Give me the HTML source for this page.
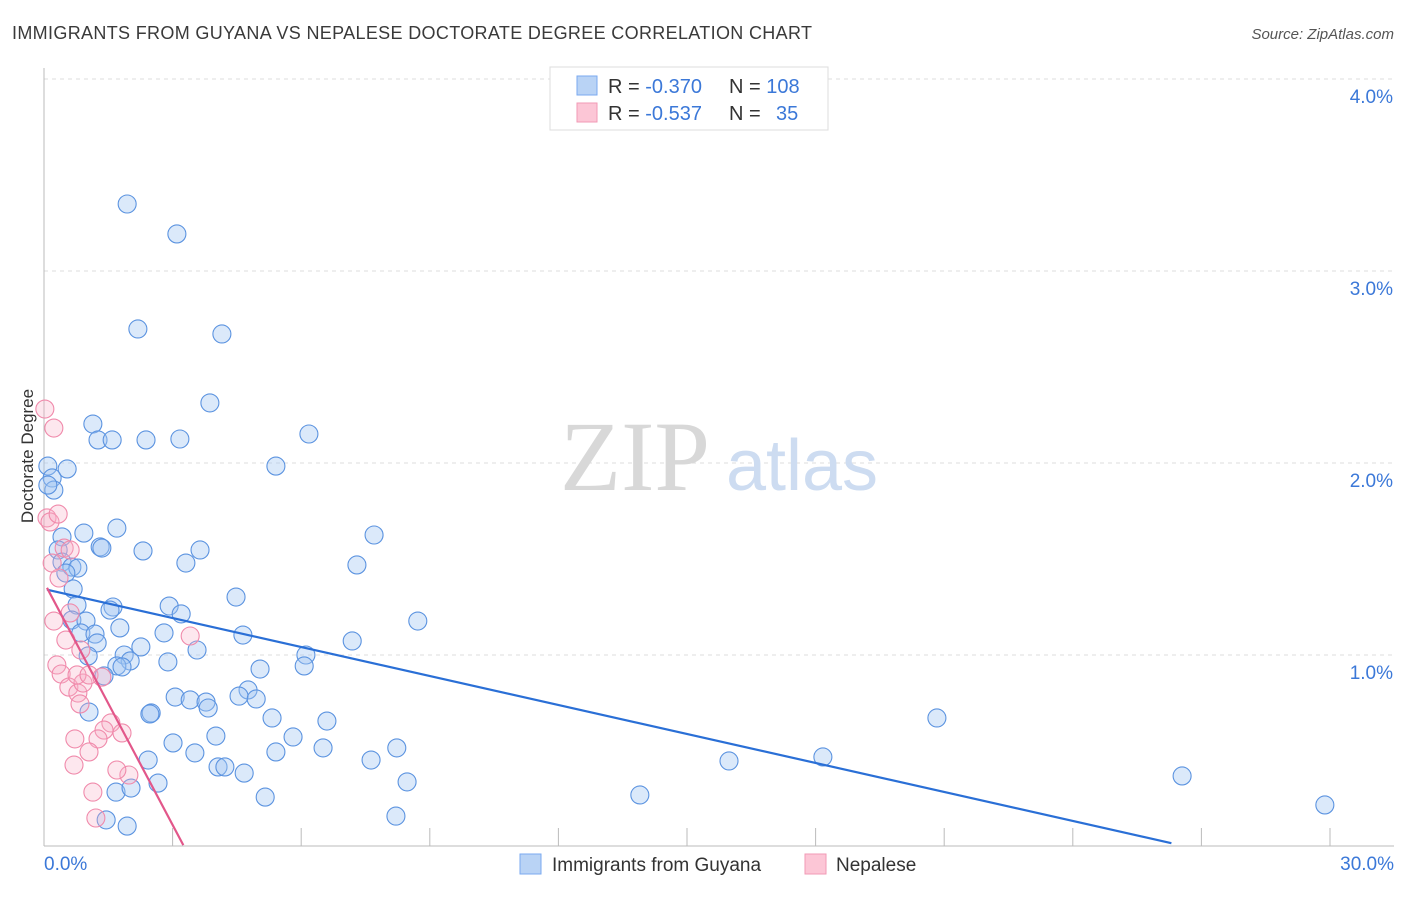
<!DOCTYPE html>
<html><head><meta charset="utf-8"><style>
body{margin:0;background:#fff;font-family:"Liberation Sans",sans-serif;}
svg text{font-family:"Liberation Sans",sans-serif;}
</style></head><body>
<svg id="chart" width="1406" height="892">
<text x="12" y="39" font-size="18" fill="#3a3a3a" textLength="800" lengthAdjust="spacing">IMMIGRANTS FROM GUYANA VS NEPALESE DOCTORATE DEGREE CORRELATION CHART</text>
<text x="1394" y="39" font-size="15" fill="#555" text-anchor="end" font-style="italic">Source: ZipAtlas.com</text>
<g id="grid"></g>
<text x="635" y="490" font-size="100" fill="#d8d8d8" text-anchor="middle" style="font-family:'Liberation Serif',serif">ZIP</text>
<text x="802" y="490" font-size="72" fill="#cddcf1" text-anchor="middle">atlas</text>
<g id="marks"></g>
<text x="33" y="456" font-size="17" fill="#333" text-anchor="middle" transform="rotate(-90 33 456)">Doctorate Degree</text>
<g>
<rect x="550" y="67" width="278" height="63" fill="#fff" stroke="#ddd"/>
<rect x="577" y="76" width="20" height="19" fill="#b9d3f5" stroke="#7aaaf0"/>
<rect x="577" y="103" width="20" height="19" fill="#fcc6d6" stroke="#f29ab5"/>
<text x="608" y="93" font-size="20" fill="#333">R = <tspan fill="#3b78d8">-0.370</tspan><tspan x="729">N = </tspan><tspan fill="#3b78d8">108</tspan></text>
<text x="608" y="120" font-size="20" fill="#333">R = <tspan fill="#3b78d8">-0.537</tspan><tspan x="729">N = </tspan><tspan x="776" fill="#3b78d8">35</tspan></text>
</g>
<g>
<rect x="520" y="854" width="21" height="20" fill="#b9d3f5" stroke="#7aaaf0"/>
<text x="552" y="871" font-size="19" fill="#333">Immigrants from Guyana</text>
<rect x="805" y="854" width="21" height="20" fill="#fcc6d6" stroke="#f29ab5"/>
<text x="836" y="871" font-size="19" fill="#333">Nepalese</text>
</g>
</svg>
<script>
const yTicks=[1,2,3,4];
const yTickLabels=["1.0%","2.0%","3.0%","4.0%"];
const xTickLabels=["0.0%","30.0%"];
const bluePx=[[127,204],[177,234],[138,329],[222,334],[210,403],[93,424],[98,440],[112,440],[146,440],[180,439],[309,434],[276,466],[67,469],[48,466],[52,478],[54,490],[48,485],[117,528],[84,533],[62,537],[58,550],[100,547],[102,548],[143,551],[200,550],[374,535],[357,565],[186,563],[62,562],[72,567],[78,568],[66,573],[73,589],[77,605],[169,606],[113,607],[110,610],[181,614],[236,597],[418,621],[72,620],[86,621],[81,633],[95,634],[120,628],[164,633],[243,635],[352,641],[97,643],[141,647],[197,650],[306,655],[88,656],[124,655],[168,662],[130,661],[117,666],[122,667],[260,669],[304,666],[104,676],[248,690],[239,696],[175,697],[256,699],[190,700],[206,702],[208,708],[151,713],[150,714],[89,712],[272,718],[327,721],[937,718],[216,736],[293,737],[173,743],[195,753],[276,752],[323,748],[397,748],[148,760],[729,761],[823,757],[371,760],[218,767],[225,767],[244,773],[158,783],[407,782],[1182,776],[116,792],[131,788],[265,797],[640,795],[1325,805],[106,820],[127,826],[396,816]];
const pinkPx=[[45,409],[54,428],[47,518],[50,522],[58,514],[64,548],[70,550],[52,563],[59,578],[70,613],[54,621],[66,640],[81,650],[190,636],[57,665],[61,674],[69,687],[78,693],[83,683],[77,675],[89,675],[102,677],[80,704],[111,723],[104,730],[122,733],[75,739],[98,739],[89,752],[74,765],[129,775],[93,792],[96,818],[117,770]];
const X0=44,XS=(1330-44)/30,Y0=847,YS=192;
const blueX=bluePx.map(p=>+((p[0]-X0)/XS).toFixed(2));
const blueY=bluePx.map(p=>+((Y0-p[1])/YS).toFixed(3));
const pinkX=pinkPx.map(p=>+((p[0]-X0)/XS).toFixed(2));
const pinkY=pinkPx.map(p=>+((Y0-p[1])/YS).toFixed(3));
const blueLine=[[0.07,1.34],[26.3,0.02]];
const pinkLine=[[0.07,1.35],[3.25,0.01]];
const xs=v=>X0+v*XS, ys=v=>Y0-v*YS;
const NS="http://www.w3.org/2000/svg";
const grid=document.getElementById('grid'), marks=document.getElementById('marks');
function mk(tag,at,par){const e=document.createElementNS(NS,tag);for(const k in at)e.setAttribute(k,at[k]);par.appendChild(e);return e;}
yTicks.forEach((t,i)=>{
 const l=mk('line',{x1:44,x2:1394,y1:ys(t),y2:ys(t),stroke:'#ddd','stroke-dasharray':'4 4'},grid);
 
 
 const tx=mk('text',{x:1393,y:ys(t)+24,'font-size':19,fill:'#3b78d8','text-anchor':'end'},grid);
 tx.textContent=yTickLabels[i];
 
 
});
const ax=mk('line',{x1:44,x2:44,y1:68,y2:846,stroke:'#bbb'},grid);


const bx=mk('line',{x1:44,x2:1394,y1:846,y2:846,stroke:'#bbb'},grid);


for(let i=1;i<=10;i++){const t=mk('line',{x1:xs(i*3),x2:xs(i*3),y1:828,y2:846,stroke:'#bbb'},grid);
 
 }
const xl0=mk('text',{x:44,y:870,'font-size':19,fill:'#3b78d8'},grid);xl0.textContent=xTickLabels[0];


const xl1=mk('text',{x:1394,y:870,'font-size':19,fill:'#3b78d8','text-anchor':'end'},grid);xl1.textContent=xTickLabels[1];


blueX.forEach((v,i)=>{const c=mk('circle',{cx:xs(v),cy:ys(blueY[i]),r:9,fill:'rgba(160,197,242,0.38)',stroke:'#5b93e0','stroke-width':1.1},marks);
 
 });
pinkX.forEach((v,i)=>{const c=mk('circle',{cx:xs(v),cy:ys(pinkY[i]),r:9,fill:'rgba(248,175,198,0.3)',stroke:'#f08aab','stroke-width':1.1},marks);
 
 });
const bl=mk('line',{x1:xs(blueLine[0][0]),y1:ys(blueLine[0][1]),x2:xs(blueLine[1][0]),y2:ys(blueLine[1][1]),stroke:'#2a6fd6','stroke-width':2.2},marks);


const pl=mk('line',{x1:xs(pinkLine[0][0]),y1:ys(pinkLine[0][1]),x2:xs(pinkLine[1][0]),y2:ys(pinkLine[1][1]),stroke:'#e2578a','stroke-width':2.2},marks);


</script>
</body></html>
